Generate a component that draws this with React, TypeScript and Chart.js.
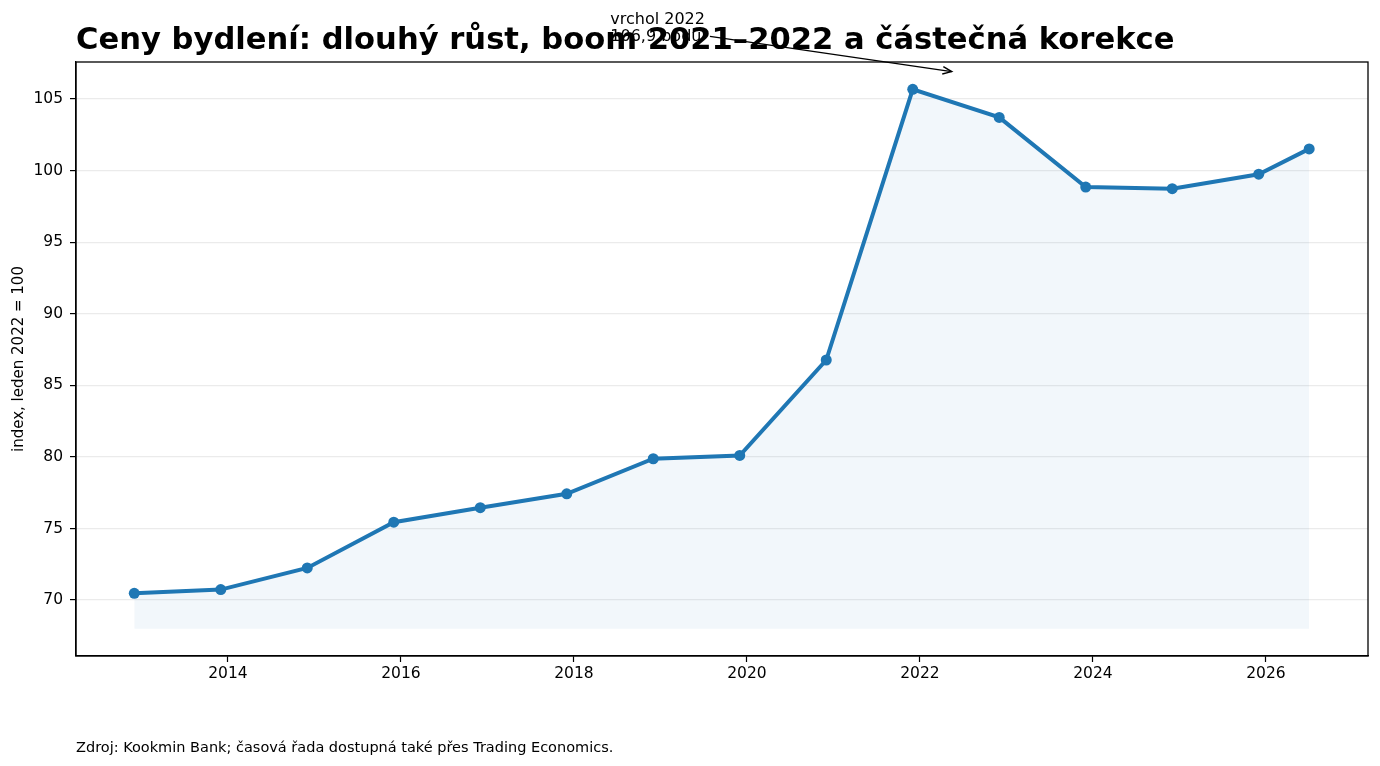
import React, { useEffect, useRef } from "react";
import { Chart, registerables } from "chart.js";

Chart.register(...registerables);

// ---- data ----
const periods = [
  "2012-12", "2013-12", "2014-12", "2015-12", "2016-12", "2017-12", "2018-12",
  "2019-12", "2020-12", "2021-12", "2022-12", "2023-12", "2024-12", "2025-12", "2026-07",
];
const values = [
  70.47, 70.73, 72.24, 75.44, 76.45, 77.42, 79.87,
  80.1, 86.77, 105.68, 103.72, 98.85, 98.74, 99.75, 101.52,
];
const xTickYears = [2014, 2016, 2018, 2020, 2022, 2024, 2026];
const yTickValues = [70, 75, 80, 85, 90, 95, 100, 105];
const fillBaseValue = 68;
const annotationLines = ["vrchol 2022", "106,9 bodu"];
const annotationPoint = { x: 2022.39, y: 106.9 };
const annotationText = { x: 2018.42, y: 109.9 };

const titleText = "Ceny bydlení: dlouhý růst, boom 2021–2022 a částečná korekce";
const yAxisTitle = "index, leden 2022 = 100";
const footerText = "Zdroj: Kookmin Bank; časová řada dostupná také přes Trading Economics.";

const toYear = (p: string) => {
  const [y, m] = p.split("-").map(Number);
  return y + (m - 1) / 12;
};

const FONT = '"DejaVu Sans", "Liberation Sans", sans-serif';
const BLUE = "#1f77b4";

const decorPlugin = {
  id: "decor",
  afterDraw(chart: any) {
    const { ctx, chartArea, scales } = chart;
    const xs = scales.x;
    const ys = scales.y;
    ctx.save();
    // frame (top + right spines)
    ctx.strokeStyle = "#000";
    ctx.lineWidth = 1.3;
    ctx.strokeRect(
      chartArea.left,
      chartArea.top,
      chartArea.right - chartArea.left,
      chartArea.bottom - chartArea.top
    );

    // title
    ctx.fillStyle = "#000";
    ctx.textBaseline = "alphabetic";
    ctx.textAlign = "left";
    ctx.font = `bold 30.6px ${FONT}`;
    ctx.fillText(titleText, chartArea.left, chartArea.top - 13);

    // footer
    ctx.font = `14.5px ${FONT}`;
    ctx.fillText(footerText, chartArea.left, 752);

    // annotation text
    ctx.font = `16px ${FONT}`;
    const tx = xs.getPixelForValue(annotationText.x);
    const cy = ys.getPixelForValue(annotationText.y);
    const b1 = cy - 5;
    const b2 = cy + 12.5;
    ctx.fillText(annotationLines[0], tx, b1);
    ctx.fillText(annotationLines[1], tx, b2);
    const w = Math.max(...annotationLines.map((l) => ctx.measureText(l).width));
    const top = b1 - 12;
    const bottom = b2 + 4;
    const right = tx + w + 3;
    const ccx = tx + w / 2;
    const ccy = (top + bottom) / 2;

    // arrow
    const px = xs.getPixelForValue(annotationPoint.x);
    const py = ys.getPixelForValue(annotationPoint.y);
    const dx = px - ccx;
    const dy = py - ccy;
    const len = Math.hypot(dx, dy);
    const ux = dx / len;
    const uy = dy / len;
    const tEdge = (right - ccx) / dx;
    const sx = ccx + dx * tEdge + ux * 2;
    const sy = ccy + dy * tEdge + uy * 2;
    const ex = px - ux * 2;
    const ey = py - uy * 2;
    ctx.strokeStyle = "#000";
    ctx.lineWidth = 1.4;
    ctx.beginPath();
    ctx.moveTo(sx, sy);
    ctx.lineTo(ex, ey);
    ctx.stroke();
    const hl = 9;
    const hw = 3.8;
    const nx = -uy;
    const ny = ux;
    ctx.beginPath();
    ctx.moveTo(ex - ux * hl + nx * hw, ey - uy * hl + ny * hw);
    ctx.lineTo(ex, ey);
    ctx.lineTo(ex - ux * hl - nx * hw, ey - uy * hl - ny * hw);
    ctx.stroke();

    ctx.restore();
  },
};

export default function App() {
  const canvasRef = useRef<HTMLCanvasElement | null>(null);

  useEffect(() => {
    if (!canvasRef.current) return;
    const points = periods.map((p, i) => ({ x: toYear(p), y: values[i] }));
    const chart = new Chart(canvasRef.current, {
      type: "line",
      data: {
        datasets: [
          {
            data: points,
            borderColor: BLUE,
            borderWidth: 4,
            backgroundColor: "rgba(31,119,180,0.06)",
            fill: { value: fillBaseValue },
            pointRadius: 5.5,
            pointHoverRadius: 5.5,
            pointBackgroundColor: BLUE,
            pointBorderColor: BLUE,
            pointBorderWidth: 0,
            tension: 0,
          },
        ],
      },
      options: {
        animation: false,
        responsive: true,
        maintainAspectRatio: false,
        layout: { padding: { top: 62, left: 0, right: 12, bottom: 60 } },
        plugins: {
          legend: { display: false },
          tooltip: { enabled: false },
          title: { display: false },
        },
        scales: {
          x: {
            type: "linear",
            min: 2012.243,
            max: 2027.18,
            afterBuildTicks: (scale: any) => {
              scale.ticks = xTickYears.map((v) => ({ value: v }));
            },
            afterFit: (scale: any) => {
              scale.height = 50;
            },
            ticks: {
              color: "#000",
              font: { family: FONT, size: 15.5 },
              padding: 3,
              maxRotation: 0,
              autoSkip: false,
              callback: (v: any) => String(v),
            },
            grid: {
              drawOnChartArea: false,
              drawTicks: true,
              tickLength: 6,
              tickColor: "#000",
              tickWidth: 1.2,
            },
            border: { display: true, color: "#000", width: 1.3 },
          },
          y: {
            type: "linear",
            min: 66.09,
            max: 107.59,
            afterBuildTicks: (scale: any) => {
              scale.ticks = yTickValues.map((v) => ({ value: v }));
            },
            afterFit: (scale: any) => {
              scale.width = 76;
            },
            ticks: {
              color: "#000",
              font: { family: FONT, size: 15.5 },
              padding: 7,
              autoSkip: false,
              callback: (v: any) => String(v),
            },
            grid: {
              drawOnChartArea: true,
              color: "#ebebeb",
              lineWidth: 1.2,
              drawTicks: true,
              tickLength: 6,
              tickColor: "#000",
              tickWidth: 1.2,
            },
            border: { display: true, color: "#000", width: 1.3 },
            title: {
              display: true,
              text: yAxisTitle,
              color: "#000",
              font: { family: FONT, size: 15 },
              padding: { top: 10, bottom: 0 },
            },
          },
        },
      },
      plugins: [decorPlugin],
    });
    return () => chart.destroy();
  }, []);

  return (
    <div style={{ position: "absolute", left: 0, top: 0, width: 1380, height: 766, background: "#fff" }}>
      <canvas ref={canvasRef} />
    </div>
  );
}
